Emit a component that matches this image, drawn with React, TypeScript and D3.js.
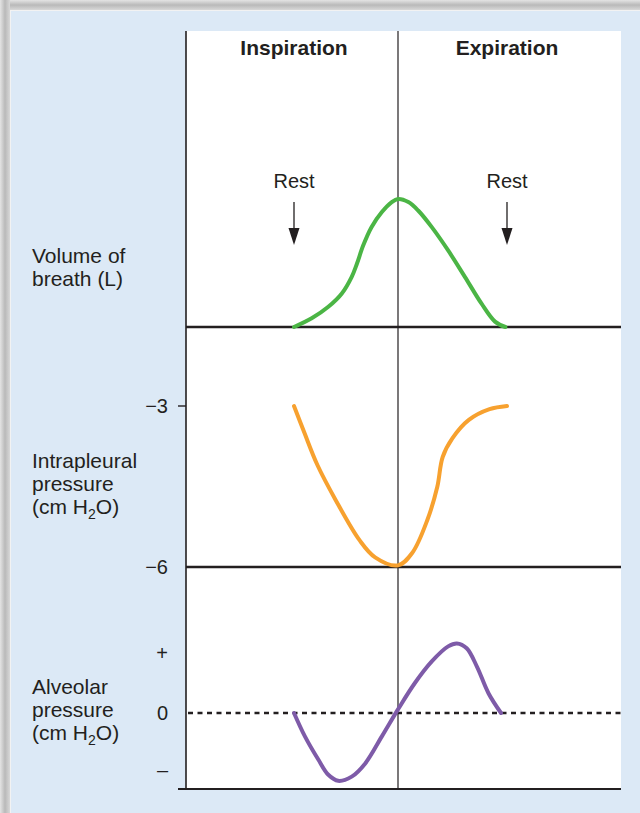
import React from 'react';
import * as d3 from 'd3';

// time in seconds: rest at 0, end of inspiration at 2, rest again at 4
const phaseTimes = [-2, 0, 2, 4, 6];
const phaseLabels = ['Inspiration', 'Expiration'];
const phaseCenters = [0, 4];
const restTimes = [0, 4];

// volume of breath (L)
const volumeT = [0, 0.34, 0.66, 0.92, 1.11, 1.21, 1.33, 1.49, 1.69, 1.88, 2.0, 2.19, 2.37, 2.62, 2.92, 3.23, 3.53, 3.78, 3.97];
const volumeV = [0, 0.034, 0.079, 0.131, 0.196, 0.247, 0.318, 0.39, 0.449, 0.488, 0.5, 0.488, 0.455, 0.39, 0.299, 0.195, 0.092, 0.021, 0];

// intrapleural pressure (cm H2O)
const pleuralT = [0, 0.2, 0.45, 0.8, 1.26, 1.56, 2.0, 2.26, 2.54, 2.72, 2.82, 3.0, 3.3, 3.68, 4.0];
const pleuralV = [-3, -3.5, -4.1, -4.75, -5.5, -5.82, -5.97, -5.74, -5.12, -4.51, -3.95, -3.6, -3.26, -3.06, -3.0];
const pleuralTicks = [-3, -6];

// alveolar pressure (cm H2O, relative)
const alveolarT = [0, 0.21, 0.47, 0.66, 0.85, 1.11, 1.37, 1.69, 2.0, 2.31, 2.62, 2.92, 3.08, 3.26, 3.45, 3.66, 3.89];
const alveolarV = [0, -0.39, -0.78, -1.03, -1.13, -1.06, -0.84, -0.39, 0.06, 0.5, 0.86, 1.11, 1.16, 1.08, 0.77, 0.33, 0];
const alveolarTicks = [1, 0, -1];
const alveolarTickLabels = ['+', '0', '\u2013'];

const W = 640;
const H = 813;
const plot = { left: 186, right: 621, top: 31, bottom: 789 };
const font = '"Liberation Sans", Arial, Helvetica, sans-serif';
const ink = '#231f20';

const x = d3.scaleLinear().domain(phaseTimes).range([plot.left, 294, 398, 507, plot.right]);
const yVol = d3.scaleLinear().domain([0, 0.5]).range([327, 199]);
const yPleural = d3.scaleLinear().domain([-6, -3]).range([567, 406]);
const yAlv = d3.scaleLinear().domain([-1, 1]).range([773, 653]);

const toPts = (ts: number[], vs: number[]) => ts.map((t, i) => [t, vs[i]] as [number, number]);

function curve(y: d3.ScaleLinear<number, number>) {
  return d3.line<[number, number]>()
    .x(d => x(d[0]))
    .y(d => y(d[1]))
    .curve(d3.curveCatmullRom.alpha(0.5));
}

const fmtMinus = (v: number) => (v < 0 ? '\u2212' + Math.abs(v) : String(v));

function AxisLabel({ lines, y }: { lines: (string | [string, string, string])[]; y: number }) {
  return (
    <text x={32} y={y} fontFamily={font} fontSize={21} fill={ink}>
      {lines.map((l, i) =>
        typeof l === 'string' ? (
          <tspan key={i} x={32} dy={i === 0 ? 0 : 23}>{l}</tspan>
        ) : (
          <tspan key={i} x={32} dy={i === 0 ? 0 : 23}>
            {l[0]}
            <tspan fontSize={14} dy={5}>{l[1]}</tspan>
            <tspan dy={-5}>{l[2]}</tspan>
          </tspan>
        )
      )}
    </text>
  );
}

export default function App() {
  const mid = x(2);
  return (
    <div style={{ position: 'absolute', left: 0, top: 0 }}>
      <svg width={W} height={H} style={{ display: 'block' }}>
        <defs>
          <linearGradient id="frameTop" x1="0" y1="0" x2="0" y2="1">
            <stop offset="0" stopColor="#e4e4e4" />
            <stop offset="0.5" stopColor="#b9b9b9" />
            <stop offset="1" stopColor="#d8d8d8" />
          </linearGradient>
          <linearGradient id="frameLeft" x1="0" y1="0" x2="1" y2="0">
            <stop offset="0" stopColor="#e4e4e4" />
            <stop offset="0.5" stopColor="#b9b9b9" />
            <stop offset="1" stopColor="#d8d8d8" />
          </linearGradient>
        </defs>
        <rect x={0} y={0} width={W} height={H} fill="#f2f2f2" />
        <rect x={0} y={0} width={W} height={10} fill="url(#frameTop)" />
        <rect x={0} y={0} width={10} height={H} fill="url(#frameLeft)" />
        <rect x={11} y={11} width={W - 11} height={H - 11} fill="#dce9f6" />
        <rect x={plot.left} y={plot.top} width={plot.right - plot.left} height={plot.bottom - plot.top} fill="#ffffff" />

        {/* vertical axis and phase divider */}
        <line x1={plot.left} x2={plot.left} y1={plot.top} y2={plot.bottom} stroke={ink} strokeWidth={1.6} />
        <line x1={mid} x2={mid} y1={plot.top} y2={plot.bottom} stroke={ink} strokeWidth={1.2} />

        {/* phase headers */}
        {phaseLabels.map((p, i) => (
          <text key={p} x={x(phaseCenters[i])} y={55} textAnchor="middle" fontFamily={font}
            fontSize={21} fontWeight="bold" fill={ink}>{p}</text>
        ))}

        {/* rest markers */}
        {restTimes.map((t, i) => (
          <g key={i}>
            <text x={x(t)} y={188} textAnchor="middle" fontFamily={font} fontSize={20} fill={ink}>Rest</text>
            <line x1={x(t)} x2={x(t)} y1={202} y2={232} stroke={ink} strokeWidth={1.3} />
            <path d={`M${x(t) - 5.5},228 L${x(t) + 5.5},228 L${x(t)},245 Z`} fill={ink} />
          </g>
        ))}

        {/* baselines */}
        <line x1={plot.left} x2={plot.right} y1={yVol(0)} y2={yVol(0)} stroke={ink} strokeWidth={2.4} />
        <line x1={plot.left} x2={plot.right} y1={yPleural(-6)} y2={yPleural(-6)} stroke={ink} strokeWidth={2.4} />
        <line x1={plot.left + 2} x2={plot.right} y1={yAlv(0)} y2={yAlv(0)} stroke={ink} strokeWidth={2.6} strokeDasharray="5 4.5" />
        <line x1={178} x2={plot.right} y1={plot.bottom} y2={plot.bottom} stroke={ink} strokeWidth={2} />

        {/* intrapleural ticks */}
        <line x1={178} x2={plot.left} y1={yPleural(-3)} y2={yPleural(-3)} stroke={ink} strokeWidth={1.4} />
        {pleuralTicks.map(v => (
          <text key={v} x={168} y={yPleural(v)} dy="0.36em" textAnchor="end" fontFamily={font} fontSize={20} fill={ink}>
            {fmtMinus(v)}
          </text>
        ))}

        {/* alveolar ticks */}
        {alveolarTicks.map((v, i) => (
          <text key={v} x={168} y={yAlv(v) + (v < 0 ? -3 : 0)} dy="0.36em" textAnchor="end" fontFamily={font} fontSize={20} fill={ink}>
            {alveolarTickLabels[i]}
          </text>
        ))}

        {/* series */}
        <path d={curve(yVol)(toPts(volumeT, volumeV)) || ''} fill="none" stroke="#4bb545" strokeWidth={4} strokeLinecap="round" />
        <path d={curve(yPleural)(toPts(pleuralT, pleuralV)) || ''} fill="none" stroke="#f7a12f" strokeWidth={4} strokeLinecap="round" />
        <path d={curve(yAlv)(toPts(alveolarT, alveolarV)) || ''} fill="none" stroke="#7e5ba8" strokeWidth={4} strokeLinecap="round" />

        {/* panel labels */}
        <AxisLabel lines={['Volume of', 'breath (L)']} y={263} />
        <AxisLabel lines={['Intrapleural', 'pressure', ['(cm H', '2', 'O)']]} y={468} />
        <AxisLabel lines={['Alveolar', 'pressure', ['(cm H', '2', 'O)']]} y={694} />
      </svg>
    </div>
  );
}
